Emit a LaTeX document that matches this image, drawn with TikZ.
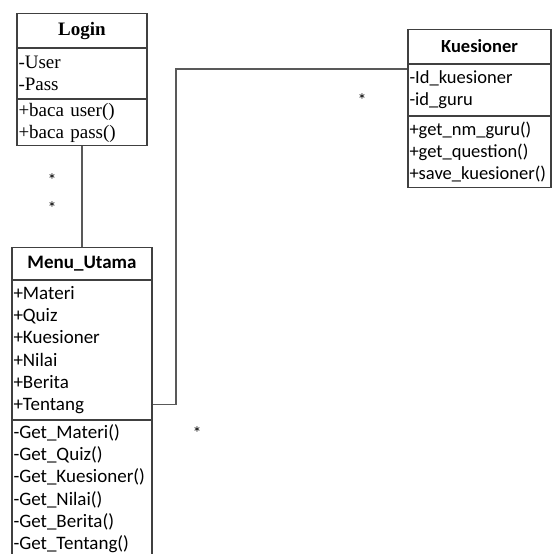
\documentclass[tikz,border=0pt]{standalone}
\usepackage{fontspec}
\setmainfont{Liberation Serif}
\newfontfamily\calibri{Carlito}
\usetikzlibrary{positioning}

\begin{document}
\begin{tikzpicture}[
    x=1pt, y=1pt,
    node distance=0pt,
    box/.style={rectangle, draw=black!75, line width=1.1pt, anchor=north,
      inner xsep=1.5pt, inner ysep=0pt, align=left},
    lgin/.style={font=\fontsize{19}{22}\selectfont, text width=127pt},
    menu/.style={font=\calibri\fontsize{19}{22.2}\selectfont, text width=137pt},
    kues/.style={font=\calibri\fontsize{18.5}{22}\selectfont, text width=140pt},
    assoc/.style={draw=black!65, line width=1.1pt},
    mult/.style={font=\calibri\fontsize{18}{18}\selectfont, inner sep=0pt}
  ]
  \useasboundingbox (0,0) rectangle (555,-554);

  % Login
  \node[box, lgin, align=center, minimum height=34pt] (lgT) at (82,-13) {\bfseries Login};
  \node[box, lgin, minimum height=50pt, below=of lgT] (lgA) {-User\\-Pass};
  \node[box, lgin, minimum height=46pt, below=of lgA] (lgM) {+baca user()\\+baca pass()};

  % Menu_Utama
  \node[box, menu, align=center, minimum height=32pt] (mtT) at (82,-247) {\bfseries Menu\_Utama};
  \node[box, menu, minimum height=139pt, below=of mtT] (mtA)
    {+Materi\\+Quiz\\+Kuesioner\\+Nilai\\+Berita\\+Tentang};
  \node[box, menu, minimum height=136pt, below=of mtA] (mtM)
    {-Get\_Materi()\\-Get\_Quiz()\\-Get\_Kuesioner()\\-Get\_Nilai()\\-Get\_Berita()\\-Get\_Tentang()};

  % Kuesioner
  \node[box, kues, align=center, minimum height=34pt] (kqT) at (479.5,-29) {\bfseries Kuesioner};
  \node[box, kues, minimum height=51pt, below=of kqT] (kqA) {-Id\_kuesioner\\-id\_guru};
  \node[box, kues, minimum height=71pt, below=of kqA] (kqM)
    {+get\_nm\_guru()\\+get\_question()\\+save\_kuesioner()};

  % multiplicities
  \node[mult] (m1) at (52,-180) {*};
  \node[mult] (m2) at (52,-208) {*};
  \node[mult] (m3) at (362,-100) {*};
  \node[mult] (m4) at (197,-433) {*};

  % associations
  \draw[assoc] (lgM.south) -- (mtT.north);
  \coordinate (elbow) at (176,-69);
  \draw[assoc] ([yshift=16pt]mtA.south east) -| (elbow) -- (elbow -| kqA.west);
\end{tikzpicture}
\end{document}
